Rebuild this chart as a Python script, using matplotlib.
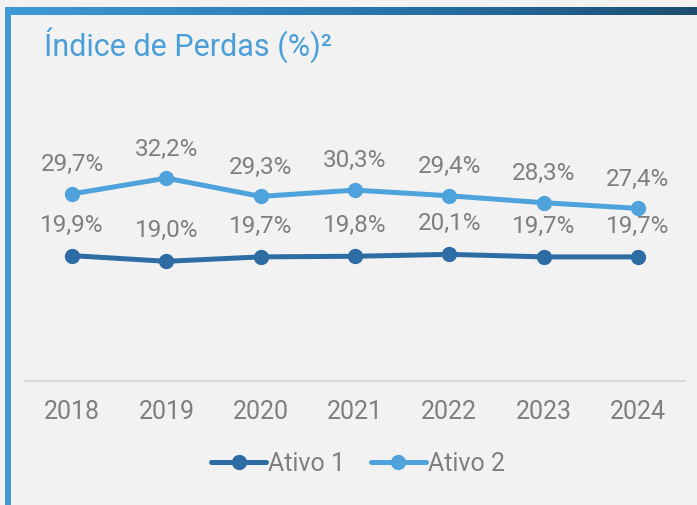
import matplotlib.pyplot as plt
import numpy as np
from matplotlib.patches import Rectangle
from matplotlib.colors import LinearSegmentedColormap

plt.rcParams['font.family'] = ['Roboto', 'DejaVu Sans']

anos = ['2018', '2019', '2020', '2021', '2022', '2023', '2024']
ativo1 = [19.9, 19.0, 19.7, 19.8, 20.1, 19.7, 19.7]
ativo2 = [29.7, 32.2, 29.3, 30.3, 29.4, 28.3, 27.4]

cor1 = '#2e6ca4'
cor2 = '#4fa3dc'
cinza = '#7f7f7f'

W, H = 697, 505
fig = plt.figure(figsize=(W / 100, H / 100), dpi=100)
fig.patch.set_facecolor('#f2f2f2')

# borders: gradient on top, solid on the left
grad = fig.add_axes([5 / W, 1 - 15 / H, 1 - 5 / W, 8 / H])
g = np.linspace(0, 1, 256).reshape(1, -1)
cmap = LinearSegmentedColormap.from_list('b', ['#3f9ad6', '#2a78b0', '#1d4e70'])
grad.imshow(g, aspect='auto', cmap=cmap, extent=[0, 1, 0, 1])
grad.axis('off')
fig.patches.append(Rectangle((5 / W, 0), 6 / W, 1 - 7 / H, transform=fig.transFigure,
                             facecolor='#3f9ad6', edgecolor='none'))

fig.text(44 / W, 1 - 45 / H, 'Índice de Perdas (%)²', color='#4a9fd8',
         fontsize=22, va='center', ha='left')

ax = fig.add_axes([25 / W, 1 - 381 / H, 660 / W, 252 / H])
ax.set_facecolor('none')
x = np.arange(len(anos))
l1, = ax.plot(x, ativo1, color=cor1, lw=3.6, marker='o', ms=10, label='Ativo 1',
              solid_capstyle='round')
l2, = ax.plot(x, ativo2, color=cor2, lw=3.6, marker='o', ms=10, label='Ativo 2',
              solid_capstyle='round')
for xi, v in zip(x, ativo1):
    ax.annotate(f'{v:.1f}%'.replace('.', ','), (xi, v), xytext=(0, 22),
                textcoords='offset points', ha='center', va='center',
                color=cinza, fontsize=17.5)
for xi, v in zip(x, ativo2):
    ax.annotate(f'{v:.1f}%'.replace('.', ','), (xi, v), xytext=(0, 21),
                textcoords='offset points', ha='center', va='center',
                color=cinza, fontsize=17.5)

ax.set_xlim(-0.5, len(anos) - 0.5)
ax.set_ylim(0, 40)
ax.set_xticks(x)
ax.set_xticklabels(anos, color=cinza, fontsize=18)
ax.tick_params(axis='x', length=0, pad=14)
ax.set_yticks([])
for s in ['top', 'right', 'left']:
    ax.spines[s].set_visible(False)
ax.spines['bottom'].set_color('#d9d9d9')
ax.spines['bottom'].set_linewidth(1.5)

leg = fig.legend(handles=[l1, l2], loc='center', bbox_to_anchor=(358 / W, 1 - 464 / H),
                 ncol=2, frameon=False, fontsize=18, handlelength=2.2,
                 handletextpad=0.1, columnspacing=1.0, labelcolor=cinza)

fig.savefig('out.png', dpi=100, facecolor=fig.get_facecolor())
